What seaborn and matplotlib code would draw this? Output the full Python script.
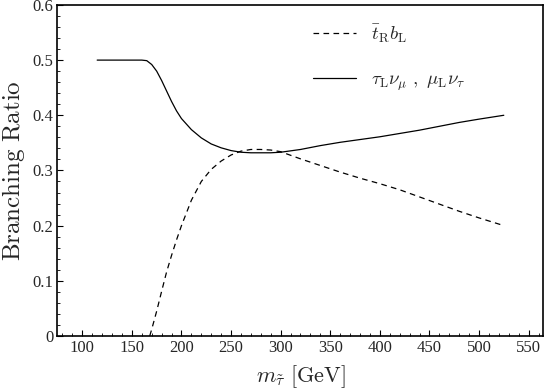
import matplotlib
matplotlib.use("Agg")
import matplotlib.pyplot as plt
import seaborn as sns
from matplotlib.ticker import MultipleLocator

# stau mass [GeV] and branching ratios
m_lep = [115, 130, 145, 160, 165, 170, 175, 180, 185, 190, 195, 200, 210, 220, 230,
         240, 250, 260, 270, 280, 290, 300, 320, 340, 360, 380, 400, 420, 440, 460,
         480, 500, 525]
br_lep = [0.500, 0.500, 0.500, 0.500, 0.499, 0.492, 0.480, 0.463, 0.444, 0.425, 0.408,
          0.394, 0.374, 0.359, 0.348, 0.341, 0.336, 0.333, 0.332, 0.332, 0.332, 0.333,
          0.338, 0.345, 0.351, 0.356, 0.361, 0.367, 0.373, 0.380, 0.387, 0.393, 0.400]

m_tb = [168, 170, 175, 180, 185, 190, 195, 200, 210, 220, 230, 240, 250, 260, 270,
        280, 290, 300, 320, 340, 360, 380, 400, 420, 440, 460, 480, 500, 525]
br_tb = [0.000, 0.012, 0.045, 0.081, 0.116, 0.146, 0.174, 0.200, 0.246, 0.280, 0.302,
         0.317, 0.328, 0.335, 0.338, 0.338, 0.337, 0.334, 0.321, 0.309, 0.297, 0.286,
         0.276, 0.265, 0.252, 0.239, 0.226, 0.214, 0.200]

sns.set_style("ticks")
plt.rcParams['font.family'] = ['Liberation Serif', 'DejaVu Serif']
plt.rcParams['mathtext.fontset'] = 'cm'

fig = plt.figure(figsize=(5.45, 3.92), dpi=100)
ax = fig.add_axes([0.1055, 0.143, 0.8917, 0.8444])

sns.lineplot(x=m_tb, y=br_tb, ax=ax, color='black', linewidth=0.9,
             linestyle=(0, (4.5, 3.5)), label=r'$\bar{t}_{\mathrm{R}}b_{\mathrm{L}}$')
sns.lineplot(x=m_lep, y=br_lep, ax=ax, color='black', linewidth=0.9,
             label=r'$\tau_{\mathrm{L}}\nu_\mu\ ,\ \mu_{\mathrm{L}}\nu_\tau$')

ax.set_xlim(75, 565)
ax.set_ylim(0, 0.6)
ax.xaxis.set_major_locator(MultipleLocator(50))
ax.xaxis.set_minor_locator(MultipleLocator(10))
ax.yaxis.set_major_locator(MultipleLocator(0.1))
ax.yaxis.set_minor_locator(MultipleLocator(0.02))
ax.yaxis.set_major_formatter(matplotlib.ticker.FuncFormatter(lambda v, p: '0' if abs(v) < 1e-9 else f'{v:.1f}'))
ax.tick_params(which='both', direction='in', top=False, right=False, labelsize=12, color='black')
ax.tick_params(which='major', length=4, width=0.8, pad=3)
ax.tick_params(which='minor', length=2.2, width=0.6)
for s in ax.spines.values():
    s.set_visible(True)
    s.set_linewidth(1.2)
    s.set_color('black')

ax.set_xlabel(r'$m_{\tilde{\tau}}\ \mathrm{[GeV]}$', fontsize=16, labelpad=5)
ax.set_ylabel(r'$\mathrm{Branching\ Ratio}$', fontsize=18, labelpad=4)

ax.legend(loc='upper left', bbox_to_anchor=(0.49, 0.998), frameon=False, fontsize=13.5,
          handlelength=2.3, handletextpad=0.8, labelspacing=1.45)

fig.savefig('out.png', dpi=100)
